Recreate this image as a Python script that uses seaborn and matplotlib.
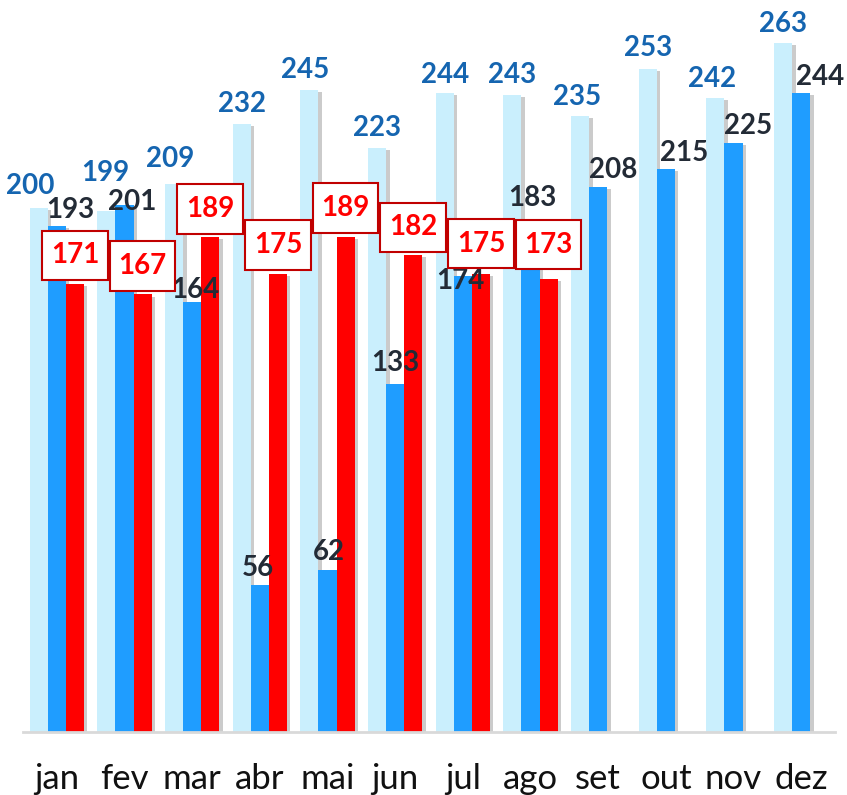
import numpy as np
import pandas as pd
import matplotlib.pyplot as plt
import matplotlib.patheffects as pe
from matplotlib.path import Path
import seaborn as sns

# --- Data ---
months = ["jan", "fev", "mar", "abr", "mai", "jun", "jul", "ago", "set", "out", "nov", "dez"]
series_names = ["serie_1", "serie_2", "serie_3"]
serie_1 = [200, 199, 209, 232, 245, 223, 244, 243, 235, 253, 242, 263]
serie_2 = [193, 201, 164, 56, 62, 133, 174, 183, 208, 215, 225, 244]
serie_3 = [171, 167, 189, 175, 189, 182, 175, 173, None, None, None, None]

# --- Label nudges (pixels) ---
s1_dx = [-9, -1, -3.5, 0, -4, 0, 0, 0, -3, 0, -3, 0]
s1_dy = [22, 38, 25, 20, 20, 20, 18, 20, 19, 21, 19, 19]
s2_dx = [13, 8, 3, -2, 1, 0, -2.5, 2, 15, 18.5, 14.5, 18.5]
s2_dy = [16, 3, 12, 17, 18, 21, -5, 55, 17, 16, 17, 16]
s3_dy = [28.5, 28.5, 28, 28.5, 29, 28, 30, 34]

colors = ["#CAEFFD", "#1F9DFF", "#FF0000"]
label_colors = ["#1565B0", "#232B36", "#FF0000"]


def red_box(x0, y0, width, height, mutation_size):
    # wider vertical padding than horizontal, like the Excel label boxes
    px = 0.31 * mutation_size
    py = 0.42 * mutation_size
    verts = [(x0 - px, y0 - py), (x0 + width + px, y0 - py),
             (x0 + width + px, y0 + height + py), (x0 - px, y0 + height + py),
             (x0 - px, y0 - py)]
    return Path(verts, closed=True)


rows = []
for name, vals in zip(series_names, [serie_1, serie_2, serie_3]):
    for m, v in zip(months, vals):
        if v is not None:
            rows.append({"mes": m, "serie": name, "valor": v})
df = pd.DataFrame(rows)

# --- Plot ---
sns.set_style("white")
plt.rcParams["font.family"] = ["Lato", "DejaVu Sans"]

fig = plt.figure(figsize=(8.47, 7.95), dpi=100)
ax = fig.add_axes([23 / 847, 63 / 795, 812 / 847, 732 / 795])

sns.barplot(data=df, x="mes", y="valor", hue="serie", order=months,
            hue_order=series_names, palette=colors, saturation=1,
            width=0.8, errorbar=None, legend=False, ax=ax)

shadow = [pe.SimplePatchShadow(offset=(2.5, -1.5), shadow_rgbFace="#8c8c8c", alpha=0.45),
          pe.Normal()]
for p in ax.patches:
    p.set_path_effects(shadow)
    p.set_edgecolor("none")

ax.set_xlim(-0.5, 11.5)
ax.set_ylim(0, 279.4)
ax.set_xlabel("")
ax.set_ylabel("")
ax.set_yticks([])

for s in ["left", "top", "right"]:
    ax.spines[s].set_visible(False)
ax.spines["bottom"].set_color("#D9D9D9")
ax.spines["bottom"].set_linewidth(2)

ax.set_xticks(range(12))
ax.set_xticklabels(months, fontsize=25, color="#111111")
ax.tick_params(axis="x", which="major", length=0, pad=22)
ax.set_xticks(np.arange(-0.5, 12, 1), minor=True)
ax.tick_params(axis="x", which="minor", length=7.5, width=2, color="#D9D9D9")

# --- Value labels ---
for k, cont in enumerate(ax.containers):
    for bar in cont.patches:
        h = bar.get_height()
        if np.isnan(h):
            continue
        xc = bar.get_x() + bar.get_width() / 2
        i = int(round(xc))
        if k == 0:
            ax.annotate(f"{int(h)}", (xc, h), xytext=(s1_dx[i], s1_dy[i]),
                        textcoords="offset pixels", ha="center", va="center",
                        fontsize=20, fontweight="bold", color=label_colors[0])
        elif k == 1:
            ax.annotate(f"{int(h)}", (xc, h), xytext=(s2_dx[i], s2_dy[i]),
                        textcoords="offset pixels", ha="center", va="center",
                        fontsize=20, fontweight="bold", color=label_colors[1])
        else:
            ax.annotate(f"{int(h)}", (xc, h), xytext=(0, s3_dy[i]),
                        textcoords="offset pixels", ha="center", va="center",
                        fontsize=20, fontweight="bold", color=label_colors[2],
                        bbox=dict(boxstyle=red_box, fc="white", ec="#C00000", lw=1.5))

fig.savefig("out.png", dpi=100)
